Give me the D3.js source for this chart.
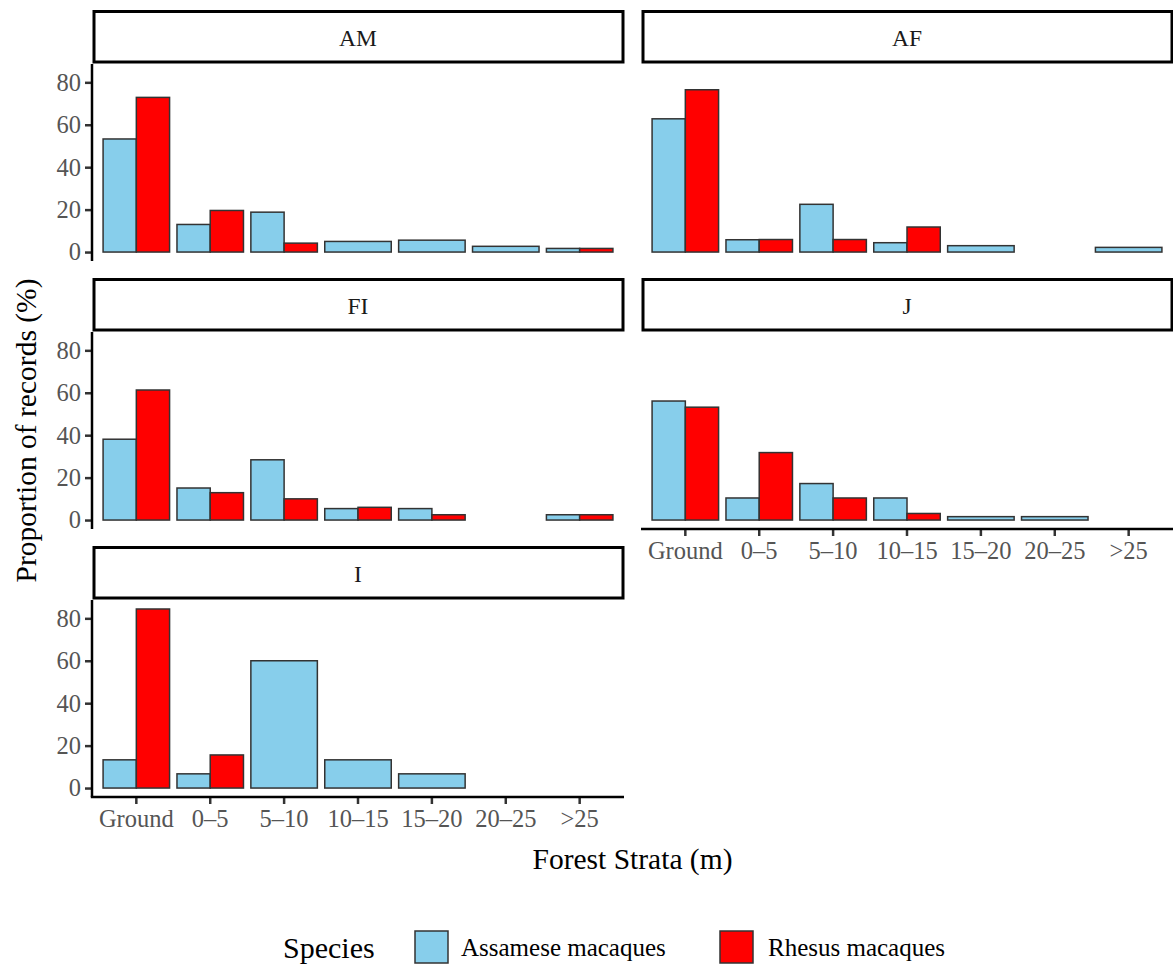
<!DOCTYPE html>
<html>
<head>
<meta charset="utf-8">
<script src="https://cdn.jsdelivr.net/npm/d3@7"></script>
<style>
  body { margin: 0; background: #fff; }
  svg { display: block; font-family: 'Liberation Serif', 'Times New Roman', serif; }
</style>
</head>
<body>
<svg id="chart" width="1173" height="968"></svg>
<script>
/* global d3 */

// forest strata categories (x axis)
var strata = ['Ground', '0–5', '5–10', '10–15', '15–20', '20–25', '>25']
var species = ['Assamese macaques', 'Rhesus macaques']
var colors = ['#87CEEB', '#FF0000']
var panels = ['AM', 'AF', 'FI', 'J', 'I']
var yTicks = [0, 20, 40, 60, 80]

// proportion of records (%), null = no records in that stratum
var assameseAM = [53.3, 13.0, 18.8, 5.0, 5.6, 2.7, 1.7]
var rhesusAM = [72.9, 19.6, 4.2, null, null, null, 1.7]
var assameseAF = [62.8, 5.8, 22.5, 4.4, 3.0, null, 2.2]
var rhesusAF = [76.5, 5.9, 5.9, 11.8, null, null, null]
var assameseFI = [38.1, 15.1, 28.4, 5.4, 5.4, null, 2.5]
var rhesusFI = [61.3, 12.9, 10.0, 6.0, 2.5, null, 2.5]
var assameseJ = [56.1, 10.4, 17.2, 10.4, 1.6, 1.6, null]
var rhesusJ = [53.2, 31.8, 10.4, 3.1, null, null, null]
var assameseI = [13.3, 6.7, 60.0, 13.3, 6.7, null, null]
var rhesusI = [84.4, 15.6, null, null, null, null, null]

var panelData = {
  AM: [assameseAM, rhesusAM],
  AF: [assameseAF, rhesusAF],
  FI: [assameseFI, rhesusFI],
  J: [assameseJ, rhesusJ],
  I: [assameseI, rhesusI]
}

var svg = d3.select('#chart')

var colX = [92, 641]
var rowTop = [10, 278, 546]
var panelW = 532
var stripH = 54
var panelH = 197

var x = d3.scaleBand()
  .domain(strata)
  .range([0, panelW])
  .paddingInner(0.1)
  .paddingOuter(0.15)

var y = d3.scaleLinear()
  .domain([-4.22, 88.64])
  .range([panelH, 0])

panels.forEach(function (name, i) {
  var col = i % 2
  var row = Math.floor(i / 2)
  var px = colX[col]
  var sy = rowTop[row]
  var py = sy + stripH

  // strip
  var strip = svg.append('g').attr('transform', 'translate(' + px + ',' + sy + ')')
  strip.append('rect')
    .attr('x', 2)
    .attr('y', 1.5)
    .attr('width', panelW - 3)
    .attr('height', stripH - 3.5)
    .attr('fill', '#fff')
    .attr('stroke', '#000')
    .attr('stroke-width', 3)
  strip.append('text')
    .attr('x', panelW / 2)
    .attr('y', stripH / 2 + 1)
    .attr('dy', '0.35em')
    .attr('text-anchor', 'middle')
    .attr('font-size', 23.5)
    .attr('fill', '#1a1a1a')
    .text(name)

  var g = svg.append('g').attr('transform', 'translate(' + px + ',' + py + ')')

  // bars, dodged; a single species takes the whole slot
  var vals = panelData[name]
  var bars = []
  strata.forEach(function (s, j) {
    var present = []
    species.forEach(function (sp, k) {
      if (vals[k][j] !== null) present.push(k)
    })
    var inner = d3.scaleBand()
      .domain(present)
      .range([0, x.bandwidth()])
    present.forEach(function (k) {
      bars.push({
        x: x(s) + inner(k),
        w: inner.bandwidth(),
        v: vals[k][j],
        k: k
      })
    })
  })

  g.selectAll('rect.bar')
    .data(bars)
    .enter()
    .append('rect')
    .attr('class', 'bar')
    .attr('x', function (d) { return d.x })
    .attr('width', function (d) { return d.w })
    .attr('y', function (d) { return y(d.v) })
    .attr('height', function (d) { return y(0) - y(d.v) })
    .attr('fill', function (d) { return colors[d.k] })
    .attr('stroke', '#333')
    .attr('stroke-width', 1.5)

  // y axis on left column
  if (col === 0) {
    var ya = g.append('g')
      .call(d3.axisLeft(y).tickValues(yTicks).tickSize(7).tickPadding(4))
    ya.select('.domain').remove()
    ya.append('line')
      .attr('x1', 0).attr('x2', 0)
      .attr('y1', 0).attr('y2', panelH)
      .attr('stroke', '#000')
      .attr('stroke-width', 2.5)
    ya.selectAll('.tick line').attr('stroke', '#333').attr('stroke-width', 2.5)
    ya.selectAll('.tick text')
      .attr('font-family', "'Liberation Serif', serif")
      .attr('font-size', 24.5)
      .attr('fill', '#555')
  }

  // x axis on panels with nothing below
  if (name === 'I' || name === 'J') {
    var xa = g.append('g')
      .attr('transform', 'translate(0,' + panelH + ')')
      .call(d3.axisBottom(x).tickSize(7).tickPadding(6))
    xa.select('.domain').remove()
    xa.append('line')
      .attr('x1', col === 0 ? -1.2 : 0).attr('x2', panelW)
      .attr('y1', 0).attr('y2', 0)
      .attr('stroke', '#000')
      .attr('stroke-width', 2.5)
    xa.selectAll('.tick line').attr('stroke', '#333').attr('stroke-width', 2.5)
    xa.selectAll('.tick text')
      .attr('font-family', "'Liberation Serif', serif")
      .attr('font-size', 24.5)
      .attr('fill', '#555')
  }
})

// axis titles
svg.append('text')
  .attr('x', (colX[0] + colX[1] + panelW) / 2)
  .attr('y', 869)
  .attr('text-anchor', 'middle')
  .attr('font-size', 29.5)
  .attr('fill', '#000')
  .text('Forest Strata (m)')

svg.append('text')
  .attr('transform', 'translate(36,' + (rowTop[0] + stripH + rowTop[2] + stripH + panelH) / 2 + ') rotate(-90)')
  .attr('text-anchor', 'middle')
  .attr('font-size', 29.5)
  .attr('fill', '#000')
  .text('Proportion of records (%)')

// legend
var legend = svg.append('g').attr('transform', 'translate(0,947)')
legend.append('text')
  .attr('x', 283)
  .attr('y', 0)
  .attr('dy', '0.35em')
  .attr('font-size', 30)
  .attr('fill', '#000')
  .text('Species')

var keyX = [415, 720]
species.forEach(function (sp, k) {
  legend.append('rect')
    .attr('x', keyX[k])
    .attr('y', -16)
    .attr('width', 33)
    .attr('height', 32)
    .attr('fill', colors[k])
    .attr('stroke', '#333')
    .attr('stroke-width', 1.5)
  legend.append('text')
    .attr('x', keyX[k] + 46 + k * 2)
    .attr('y', 0)
    .attr('dy', '0.35em')
    .attr('font-size', 25)
    .attr('fill', '#000')
    .text(sp)
})
</script>
</body>
</html>
